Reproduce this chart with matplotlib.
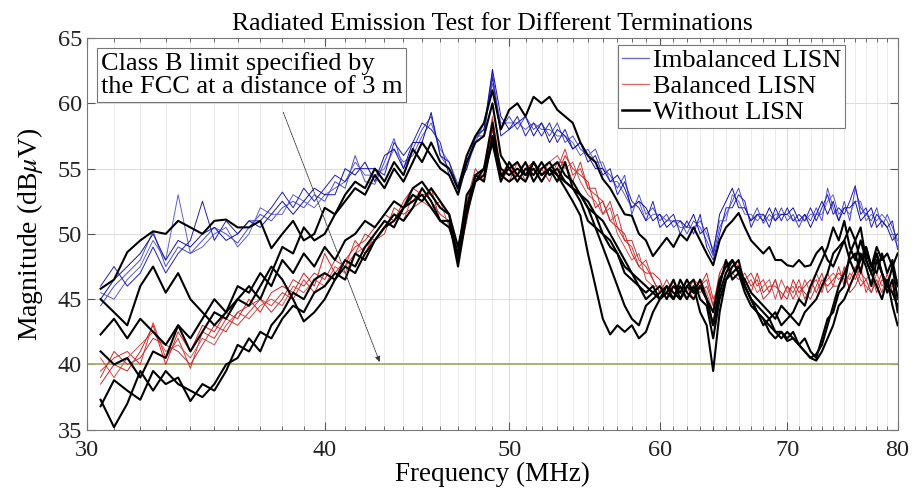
import numpy as np
import matplotlib
matplotlib.use('Agg')
import matplotlib.pyplot as plt
from matplotlib.lines import Line2D
from matplotlib.ticker import FixedLocator, FixedFormatter, NullFormatter

plt.rcParams['font.family'] = ['Liberation Serif', 'DejaVu Serif']
plt.rcParams['mathtext.fontset'] = 'stix'

# Frequency grid (MHz)
FREQ = [30.5, 31.0, 31.5, 32.0, 32.5, 33.0, 33.5, 34.0, 34.5, 35.0,
        35.5, 36.0, 36.5, 37.0, 37.5, 38.0, 38.5, 39.0, 39.5, 40.0,
        40.5, 41.0, 41.5, 42.0, 42.5, 43.0, 43.5, 44.0, 44.5, 45.0,
        45.5, 46.0, 46.5, 47.0, 47.5, 48.0, 48.5, 49.0, 49.5, 50.0,
        50.5, 51.0, 51.5, 52.0, 52.5, 53.0, 53.5, 54.0, 54.5, 55.0,
        55.5, 56.0, 56.5, 57.0, 57.5, 58.0, 58.5, 59.0, 59.5, 60.0,
        60.5, 61.0, 61.5, 62.0, 62.5, 63.0, 63.5, 64.0, 64.5, 65.0,
        65.5, 66.0, 66.5, 67.0, 67.5, 68.0, 68.5, 69.0, 69.5, 70.0,
        70.5, 71.0, 71.5, 72.0, 72.5, 73.0, 73.5, 74.0, 74.5, 75.0,
        75.5, 76.0, 76.5, 77.0, 77.5, 78.0, 78.5, 79.0, 79.5, 80.0]

# Imbalanced LISN measurements (dBuV)
IMB_1 = [44.5, 46.0, 47.0, 48.0, 50.2, 47.5, 49.0, 48.5, 49.5, 50.5,
         50.0, 49.3, 50.5, 51.5, 51.0, 52.0, 52.5, 52.0, 53.0, 52.5,
         54.0, 53.5, 56.0, 54.0, 53.8, 55.5, 57.3, 55.0, 56.5, 58.0,
         59.0, 56.0, 55.0, 53.3, 55.5, 57.3, 58.0, 62.3, 58.0, 59.0,
         58.0, 59.0, 58.0, 58.5, 57.5, 58.5, 57.0, 57.5, 56.5, 56.0,
         56.5, 55.0, 54.5, 53.5, 54.5, 51.5, 53.0, 51.5, 52.0, 51.0,
         51.5, 50.5, 51.0, 50.0, 51.0, 50.5, 49.5, 48.3, 50.5, 51.5,
         52.5, 53.5, 52.0, 51.0, 52.0, 50.8, 51.5, 51.0, 52.0, 51.0,
         51.5, 50.5, 51.5, 51.0, 52.0, 51.0, 53.5, 52.0, 51.0, 52.5,
         51.0, 53.5, 52.0, 51.5, 51.0, 52.0, 50.5, 51.5, 50.5, 49.5]
IMB_2 = [45.5, 45.0, 46.5, 47.5, 49.5, 48.0, 53.0, 48.5, 49.0, 50.0,
         50.5, 49.0, 50.0, 52.0, 51.5, 51.5, 53.0, 52.5, 52.0, 53.0,
         53.5, 54.0, 55.5, 54.5, 54.5, 55.0, 56.5, 55.5, 56.0, 57.5,
         58.5, 56.5, 55.5, 53.8, 55.0, 57.0, 58.5, 61.5, 58.5, 58.5,
         58.5, 58.0, 58.5, 58.0, 58.0, 57.5, 57.5, 57.0, 56.0, 56.5,
         55.5, 55.5, 54.0, 54.0, 53.0, 52.0, 52.5, 51.0, 51.5, 51.5,
         51.0, 51.0, 50.5, 50.5, 50.5, 51.0, 50.0, 48.8, 51.0, 51.0,
         53.0, 52.5, 51.5, 51.5, 51.0, 51.5, 51.0, 51.5, 51.5, 51.5,
         51.0, 51.0, 51.0, 51.5, 51.5, 51.5, 52.5, 53.0, 51.5, 52.0,
         51.5, 52.5, 52.5, 51.0, 51.5, 51.0, 51.5, 51.0, 50.0, 49.0]
IMB_3 = [46.0, 47.5, 46.0, 47.0, 49.0, 47.0, 48.5, 49.5, 52.5, 49.5,
         51.0, 50.0, 51.0, 51.0, 52.0, 53.2, 52.0, 53.5, 52.5, 53.5,
         54.5, 54.0, 55.0, 55.0, 55.0, 54.5, 57.0, 56.0, 57.0, 58.5,
         58.0, 57.0, 54.5, 53.0, 56.0, 57.5, 57.5, 62.0, 57.5, 58.0,
         59.0, 57.5, 58.5, 57.5, 58.5, 57.0, 58.0, 56.5, 57.0, 55.5,
         56.0, 54.5, 55.0, 53.0, 54.0, 52.5, 52.0, 51.0, 52.5, 50.5,
         51.0, 51.5, 50.0, 51.0, 50.0, 51.5, 49.0, 48.0, 50.0, 52.0,
         52.0, 53.0, 52.5, 50.5, 51.5, 51.5, 50.5, 52.0, 51.0, 52.0,
         51.0, 51.5, 51.0, 52.0, 51.0, 52.0, 53.0, 51.5, 52.0, 51.5,
         52.5, 53.7, 51.5, 52.0, 50.5, 51.5, 51.0, 50.5, 51.0, 48.8]
IMB_4 = [45.0, 46.5, 47.5, 48.5, 50.0, 48.0, 49.5, 49.0, 50.0, 50.5,
         49.5, 50.0, 51.0, 50.5, 51.5, 52.5, 51.5, 52.5, 53.5, 53.0,
         53.0, 55.0, 54.5, 55.5, 54.0, 56.0, 56.5, 55.0, 57.0, 57.0,
         59.3, 56.0, 55.5, 53.5, 55.0, 57.5, 58.0, 62.6, 59.0, 58.0,
         58.5, 59.0, 57.5, 58.5, 57.0, 58.0, 57.5, 56.5, 57.0, 56.0,
         55.0, 55.0, 54.0, 54.5, 53.5, 52.0, 52.5, 52.0, 51.0, 51.5,
         50.5, 51.0, 51.0, 50.5, 51.5, 50.0, 50.5, 48.5, 51.5, 52.5,
         53.5, 52.0, 52.0, 51.0, 51.5, 51.0, 52.0, 51.0, 51.5, 51.5,
         52.0, 51.0, 51.5, 50.5, 51.5, 52.5, 51.5, 52.5, 51.0, 52.0,
         52.0, 52.5, 51.0, 51.5, 52.0, 50.5, 51.0, 50.5, 49.5, 50.0]

# Balanced LISN measurements (dBuV)
BAL_1 = [39.5, 40.5, 41.0, 40.0, 43.2, 40.5, 42.0, 39.7, 42.5, 42.0,
         43.5, 43.0, 44.0, 45.0, 44.5, 45.5, 45.0, 46.5, 45.5, 47.0,
         46.5, 47.5, 49.5, 48.5, 50.0, 51.0, 50.5, 52.0, 52.5, 53.5,
         52.5, 51.5, 51.0, 48.5, 51.5, 54.5, 54.0, 58.5, 54.0, 55.0,
         54.5, 55.5, 54.5, 55.5, 54.5, 55.0, 56.5, 54.5, 55.0, 53.5,
         53.0, 52.5, 51.0, 51.5, 49.5, 49.0, 47.5, 48.0, 46.5, 45.5,
         46.0, 45.0, 46.0, 45.5, 46.5, 46.0, 46.5, 44.5, 46.5, 47.5,
         48.0, 47.5, 46.5, 47.0, 46.0, 46.5, 45.5, 46.5, 45.0, 46.0,
         45.5, 46.5, 45.0, 46.0, 46.5, 45.5, 47.0, 46.0, 47.5, 46.0,
         47.0, 46.5, 47.5, 45.5, 46.5, 46.0, 47.0, 45.5, 46.5, 46.0]
BAL_2 = [40.5, 39.0, 40.5, 41.5, 42.5, 41.0, 41.5, 40.5, 42.0, 41.5,
         43.0, 44.0, 43.5, 44.5, 45.0, 44.5, 46.0, 45.5, 46.5, 46.0,
         47.5, 47.0, 48.5, 49.0, 49.5, 50.5, 51.5, 51.0, 53.0, 52.5,
         52.0, 52.5, 50.5, 49.0, 52.0, 54.0, 55.0, 59.0, 55.0, 54.5,
         55.0, 54.5, 55.0, 54.5, 55.5, 56.0, 55.0, 55.5, 54.0, 53.0,
         52.5, 51.5, 52.0, 50.0, 49.0, 48.0, 48.5, 46.5, 46.0, 46.0,
         45.5, 46.0, 45.0, 46.5, 45.5, 46.5, 45.5, 44.0, 47.0, 47.0,
         47.5, 48.0, 46.0, 46.5, 45.5, 46.0, 46.5, 45.0, 46.5, 45.5,
         46.0, 45.0, 46.5, 45.5, 47.0, 46.0, 46.5, 47.0, 46.5, 47.0,
         46.5, 47.5, 46.5, 46.0, 45.5, 47.0, 46.0, 46.5, 45.5, 46.5]
BAL_3 = [38.5, 40.0, 39.5, 41.0, 43.0, 40.0, 42.5, 41.0, 43.0, 42.5,
         44.0, 43.5, 45.0, 44.0, 45.5, 46.0, 45.5, 47.0, 46.0, 48.5,
         47.0, 48.0, 49.0, 49.5, 50.5, 51.5, 51.0, 52.5, 53.5, 53.0,
         53.0, 52.0, 51.5, 48.0, 51.0, 54.5, 54.5, 58.0, 54.5, 55.5,
         54.0, 55.0, 55.5, 54.0, 55.0, 54.5, 56.0, 55.0, 54.5, 54.0,
         52.0, 52.5, 51.0, 50.5, 50.0, 48.5, 47.5, 47.0, 47.0, 46.5,
         45.0, 46.5, 45.5, 46.0, 45.0, 46.0, 47.0, 45.0, 46.0, 48.0,
         47.0, 47.5, 46.5, 45.5, 47.0, 45.5, 46.0, 46.0, 45.5, 45.0,
         46.5, 45.5, 46.0, 46.5, 45.5, 46.5, 46.0, 46.5, 47.0, 46.5,
         46.0, 47.0, 46.0, 46.5, 47.0, 45.5, 46.5, 46.0, 46.0, 45.5]
BAL_4 = [39.0, 41.0, 40.0, 40.5, 42.0, 41.5, 41.0, 40.0, 41.5, 43.0,
         42.5, 44.0, 44.5, 45.0, 44.0, 45.0, 46.5, 46.0, 47.0, 46.5,
         48.0, 47.5, 48.5, 50.0, 49.5, 50.0, 52.0, 51.5, 52.0, 52.5,
         53.5, 51.0, 50.5, 48.5, 52.5, 55.0, 54.0, 58.8, 54.5, 54.0,
         55.5, 54.0, 55.0, 55.0, 54.0, 55.5, 55.5, 54.0, 55.5, 53.5,
         53.5, 51.5, 52.5, 50.5, 49.5, 49.5, 48.0, 47.5, 46.5, 45.5,
         46.5, 45.5, 45.5, 45.0, 46.0, 45.5, 46.0, 44.5, 47.0, 48.0,
         47.0, 46.5, 47.0, 46.0, 46.5, 45.0, 45.5, 46.5, 45.0, 46.0,
         45.0, 46.0, 45.5, 45.0, 46.0, 47.0, 45.5, 46.0, 46.0, 47.5,
         45.5, 46.0, 47.0, 46.5, 45.5, 46.5, 45.5, 47.0, 45.5, 46.0]

# Without LISN measurements (dBuV)
NOL_1 = [45.8, 46.5, 48.6, 49.5, 50.2, 50.0, 51.0, 50.5, 50.0, 51.0,
         51.1, 50.5, 50.5, 51.0, 48.9, 50.0, 51.0, 49.5, 50.0, 52.0,
         51.5, 53.0, 54.0, 53.5, 55.0, 54.0, 55.5, 54.5, 56.5, 55.5,
         57.0, 55.5, 55.0, 53.5, 56.0, 57.5, 58.5, 61.0, 58.0, 59.5,
         60.0, 59.0, 60.5, 60.0, 60.5, 59.5, 59.0, 58.5, 57.0, 56.0,
         55.5, 54.2, 53.5, 52.5, 51.5, 51.4, 50.0, 49.5, 48.3, 49.0,
         49.7, 49.0, 50.0, 49.5, 50.5, 49.5, 48.5, 47.6, 49.5, 50.5,
         51.0, 51.6, 50.5, 49.5, 49.0, 48.5, 49.0, 48.0, 48.0, 47.6,
         47.5, 48.0, 47.5, 47.6, 48.5, 49.0, 48.0, 47.5, 48.5, 49.5,
         50.5, 49.5, 48.0, 48.5, 47.5, 49.0, 48.0, 48.5, 47.5, 48.5]
NOL_2 = [45.0, 44.0, 43.0, 46.0, 47.5, 45.5, 47.0, 45.0, 44.0, 43.0,
         44.0, 45.0, 46.0, 45.0, 47.0, 49.0, 48.5, 50.5, 49.5, 50.0,
         51.5, 52.5, 53.5, 53.0, 54.5, 53.5, 55.0, 54.0, 55.5, 57.0,
         56.0, 55.0, 54.5, 53.0, 55.5, 57.0, 57.5, 60.0, 56.0, 55.0,
         55.5, 54.5, 55.0, 54.0, 55.0, 54.5, 53.5, 52.5, 51.4, 48.5,
         46.0, 43.5, 42.3, 43.0, 42.5, 43.0, 42.0, 42.5, 44.0, 45.0,
         45.5, 46.5, 45.0, 46.0, 45.5, 46.5, 45.0, 44.0, 46.5, 47.5,
         48.0, 47.0, 46.0, 45.0, 44.0, 43.5, 42.5, 42.0, 42.5, 41.8,
         42.0, 41.5, 41.0, 40.5, 40.8, 41.5, 43.0, 44.5, 46.0, 47.0,
         48.0, 47.0, 48.5, 47.5, 46.0, 48.0, 47.0, 45.5, 46.5, 44.0]
NOL_3 = [42.3, 43.5, 42.0, 43.5, 42.5, 41.5, 43.0, 42.0, 43.5, 45.0,
         44.0, 46.0, 45.5, 47.0, 46.0, 48.0, 47.0, 48.5, 47.5, 49.0,
         48.0, 49.5, 50.0, 51.0, 50.5, 51.5, 52.5, 52.0, 53.5, 54.0,
         53.0, 52.0, 51.5, 49.0, 52.0, 54.5, 55.0, 58.5, 54.5, 55.0,
         54.0, 55.0, 54.5, 55.5, 54.5, 55.0, 54.0, 53.5, 53.0, 52.0,
         51.5, 50.0, 49.5, 48.5, 47.5, 47.0, 46.0, 45.5, 46.0, 45.0,
         45.5, 45.0, 46.0, 45.0, 46.0, 44.0, 43.0, 39.5, 44.0, 46.5,
         47.5, 48.0, 46.0, 45.0, 44.0, 43.5, 43.0, 42.5, 42.0, 42.5,
         42.0, 41.5, 41.0, 40.5, 40.3, 41.0, 42.0, 43.0, 44.5, 45.0,
         46.0, 47.0, 48.0, 49.0, 47.5, 47.0, 48.5, 47.0, 48.0, 46.0]
NOL_4 = [41.0, 40.0, 40.5, 39.0, 41.0, 40.5, 43.0, 41.0, 42.5, 44.0,
         43.5, 45.0, 44.5, 46.0, 47.5, 46.5, 45.0, 43.3, 44.0, 45.0,
         46.5, 47.5, 47.0, 48.5, 49.5, 50.5, 51.0, 52.0, 52.5, 53.0,
         52.0, 51.0, 50.5, 48.5, 53.0, 54.0, 55.0, 57.0, 54.0, 55.5,
         54.5, 54.0, 55.5, 54.5, 55.0, 54.0, 55.5, 53.5, 53.0, 52.0,
         50.5, 49.0, 47.5, 46.0, 44.5, 43.5, 43.0, 44.5, 45.0, 45.5,
         46.0, 45.0, 46.5, 45.5, 45.0, 46.0, 45.0, 43.0, 46.0, 48.0,
         46.5, 47.0, 45.5, 44.5, 44.0, 43.0, 43.5, 42.5, 42.5, 42.0,
         42.5, 41.5, 42.0, 41.0, 40.5, 42.0, 43.5, 44.0, 45.5, 46.0,
         48.5, 49.5, 50.5, 48.0, 47.0, 46.0, 45.0, 46.5, 44.5, 43.0]
NOL_5 = [37.3, 35.2, 37.0, 39.5, 38.0, 39.5, 38.5, 38.0, 37.5, 38.5,
         40.0, 40.5, 42.0, 41.0, 43.0, 44.0, 45.5, 45.0, 46.5, 47.0,
         46.5, 48.0, 47.5, 49.0, 50.0, 51.0, 50.5, 52.0, 53.0, 52.5,
         53.5, 52.5, 51.5, 48.0, 52.0, 54.5, 54.0, 57.5, 55.0, 54.5,
         55.0, 54.5, 55.5, 54.5, 55.0, 55.5, 54.5, 54.0, 53.0, 52.5,
         51.5, 51.0, 50.0, 49.0, 48.0, 47.0, 46.5, 46.0, 45.5, 46.0,
         45.0, 46.0, 45.5, 46.5, 45.5, 46.0, 45.0, 43.0, 45.5, 47.0,
         48.0, 47.0, 46.5, 45.5, 45.0, 44.5, 44.0, 43.5, 44.5, 44.0,
         43.5, 43.0, 44.0, 44.5, 45.0, 46.0, 47.0, 48.5, 49.0, 49.5,
         48.0, 48.5, 47.0, 49.0, 47.5, 48.5, 47.0, 46.0, 47.5, 45.0]
NOL_6 = [36.8, 38.8, 38.0, 37.3, 39.5, 38.5, 39.0, 37.2, 38.5, 38.0,
         39.5, 41.5, 41.0, 42.5, 42.0, 43.5, 44.5, 44.0, 45.5, 46.0,
         47.0, 46.5, 48.5, 48.0, 49.5, 50.5, 51.5, 51.0, 52.0, 53.5,
         52.5, 51.0, 51.0, 47.5, 51.5, 54.0, 54.5, 57.0, 54.5, 54.0,
         54.5, 55.5, 54.0, 55.0, 55.5, 54.5, 54.0, 53.5, 52.5, 51.0,
         50.5, 50.0, 49.0, 48.5, 47.0, 46.5, 46.0, 45.0, 45.5, 45.0,
         46.0, 45.5, 45.0, 46.0, 46.5, 45.0, 44.5, 42.0, 45.0, 46.5,
         47.0, 47.5, 46.0, 45.0, 44.5, 44.0, 43.5, 44.0, 43.0, 43.5,
         44.0, 45.0, 44.5, 46.0, 47.0, 48.0, 49.0, 50.5, 49.5, 51.0,
         49.0, 48.0, 49.5, 48.0, 47.0, 48.5, 47.0, 46.0, 45.5, 44.5]

LIMIT_DB = 40  # FCC Class B limit at 3 m
X_TICKS = [30, 40, 50, 60, 70, 80]
Y_TICKS = [35, 40, 45, 50, 55, 60, 65]


def main():
    fig = plt.figure(figsize=(9.15, 4.94), dpi=100)
    ax = fig.add_axes([0.095, 0.13, 0.886, 0.793])

    freq = np.array(FREQ)
    imb = [IMB_1, IMB_2, IMB_3, IMB_4]
    bal = [BAL_1, BAL_2, BAL_3, BAL_4]
    nol = [NOL_1, NOL_2, NOL_3, NOL_4, NOL_5, NOL_6]

    imb_colors = ['#4a4ad4', '#6060cc', '#2020b8', '#1010a8']
    bal_colors = ['#e03030', '#d05050', '#d82020', '#b83535']

    for k, y in enumerate(imb):
        ax.plot(freq, y, color=imb_colors[k], lw=0.7)
    for k, y in enumerate(bal):
        ax.plot(freq, y, color=bal_colors[k], lw=0.7)
    for y in nol:
        ax.plot(freq, y, color='black', lw=1.5)

    ax.axhline(LIMIT_DB, color='#a6ae6a', lw=1.3, zorder=1)

    ax.set_xscale('log')
    ax.set_xlim(30, 80)
    ax.set_ylim(35, 65)
    ax.xaxis.set_major_locator(FixedLocator(X_TICKS))
    ax.xaxis.set_major_formatter(FixedFormatter([str(t) for t in X_TICKS]))
    ax.xaxis.set_minor_locator(FixedLocator(list(range(31, 80))))
    ax.xaxis.set_minor_formatter(NullFormatter())
    ax.set_yticks(Y_TICKS)

    ax.grid(True, which='major', color='#dcdcdc', lw=0.7)
    ax.grid(True, which='minor', axis='x', color='#e8e8e8', lw=0.6)
    ax.set_axisbelow(True)

    ax.tick_params(which='both', direction='in', top=True, right=True,
                   colors='#555555', labelcolor='#222222', labelsize=17.5)
    ax.tick_params(which='major', length=6)
    ax.tick_params(axis='x', which='major', pad=7)
    ax.tick_params(which='minor', length=3)
    for s in ax.spines.values():
        s.set_color('#777777')
        s.set_linewidth(0.8)

    ax.set_title('Radiated Emission Test for Different Terminations',
                 fontsize=18.5, pad=6)
    ax.set_xlabel('Frequency (MHz)', fontsize=19.5, labelpad=1)
    ax.set_ylabel(r'Magnitude (dB$\mu$V)', fontsize=20, labelpad=9)

    handles = [Line2D([], [], color='#6c6cd0', lw=1.0),
               Line2D([], [], color='#e06a6a', lw=1.0),
               Line2D([], [], color='black', lw=1.8)]
    leg = ax.legend(handles, ['Imbalanced LISN', 'Balanced LISN', 'Without LISN'],
                    loc='upper right', bbox_to_anchor=(0.935, 0.983),
                    fontsize=19, handlelength=1.0, handletextpad=0.15,
                    borderpad=0.15, labelspacing=0.1, fancybox=False,
                    framealpha=1, edgecolor='#777777', borderaxespad=0)
    leg.get_frame().set_linewidth(0.8)

    ax.text(0.017, 0.965, 'Class B limit specified by\nthe FCC at a distance of 3 m',
            transform=ax.transAxes, fontsize=19, va='top', ha='left',
            linespacing=1.05,
            bbox=dict(boxstyle='square,pad=0.15', fc='white', ec='#777777', lw=0.8))
    ax.annotate('', xy=(42.8, LIMIT_DB), xytext=(38.0, 59.5),
                arrowprops=dict(arrowstyle='-|>', color='#333333', lw=0.6,
                                ls=(0, (2, 1)), mutation_scale=8))

    fig.savefig('out.png', dpi=100)


if __name__ == '__main__':
    main()
